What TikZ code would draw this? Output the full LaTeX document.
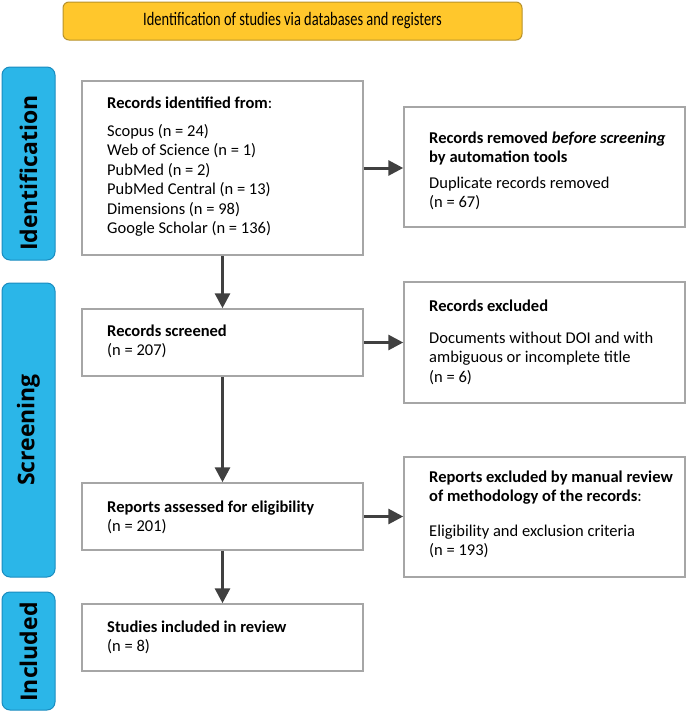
\documentclass[tikz,border=0pt]{standalone}
\usepackage{fontspec}
\setmainfont{Carlito}
\newfontfamily\sidefont{Open Sans}
\newfontfamily\titlefont[FakeStretch=0.76]{Carlito}
\usetikzlibrary{arrows.meta}
\definecolor{boxgray}{HTML}{A6A6A6}
\definecolor{arrowgray}{HTML}{404040}
\definecolor{titlefill}{HTML}{FFC72C}
\definecolor{titledraw}{HTML}{B8922A}
\definecolor{sidefill}{HTML}{2BB6E8}
\definecolor{sidedraw}{HTML}{1A8CC0}
\tikzset{
  flowbox/.style={draw=boxgray, line width=1.5pt, fill=white, inner sep=0pt, minimum width=281pt},
  sidebox/.style={draw=sidedraw, line width=1pt, fill=sidefill, rounded corners=8pt, inner sep=0pt, minimum width=53pt},
  sidelabel/.style={rotate=90, inner sep=0pt, font=\sidefont\bfseries\fontsize{23}{27}\selectfont},
  txt/.style={anchor=base west, inner sep=0pt, align=left, font=\fontsize{16.5}{19.5}\selectfont},
  flowarrow/.style={draw=arrowgray, line width=3pt, -{Triangle[length=15pt,width=15pt]}, shorten >=0pt}
}
\newcommand{\lines}[1]{\begin{tabular}[t]{@{}l@{}}#1\end{tabular}}
\begin{document}
\begin{tikzpicture}[x=1pt,y=-1pt]
\useasboundingbox (0,0) rectangle (686,712);
% title
\node[draw=titledraw, line width=1pt, fill=titlefill, rounded corners=6pt, minimum width=459pt, minimum height=38pt, inner sep=0pt,
  font=\titlefont\fontsize{19}{22}\selectfont] (title) at (292.5,21) {Identification of studies via databases and registers};
% side boxes
\node[sidebox, minimum height=193pt] (sid) at (28.5,163.5) {};
\node[sidelabel] (sidt) at (28.5,173) {Identification};
\node[sidebox, minimum height=294pt] (ssc) at (28.5,430) {};
\node[sidelabel] (ssct) at (28.5,430) {Screening};
\node[sidebox, minimum height=118pt] (sin) at (28.5,651) {};
\node[sidelabel] (sint) at (28.5,652) {Included};
% flow boxes
\node[flowbox, minimum height=174pt] (ident) at (222.5,168) {};
\node[flowbox, minimum height=120pt] (remov) at (544.5,167) {};
\node[flowbox, minimum height=67pt] (scr) at (222.5,342.5) {};
\node[flowbox, minimum height=121pt] (excl) at (544.5,342.5) {};
\node[flowbox, minimum height=67pt] (assess) at (222.5,516.5) {};
\node[flowbox, minimum height=120pt] (repexcl) at (544.5,517) {};
\node[flowbox, minimum height=67pt] (incl) at (222.5,637.5) {};
% texts
\node[txt] (identh) at (107,108) {\textbf{Records identified from}:};
\node[txt] (identl) at (107,136) {\lines{Scopus (n = 24)\\Web of Science (n = 1)\\PubMed (n = 2)\\PubMed Central (n = 13)\\Dimensions (n = 98)\\Google Scholar (n = 136)}};
\node[txt] (removh) at (429,143) {\lines{\textbf{Records removed \textit{before screening}}\\\textbf{by automation tools}}};
\node[txt] (removl) at (429,188) {\lines{Duplicate records removed\\(n = 67)}};
\node[txt] (scrt) at (107,336) {\lines{\textbf{Records screened}\\(n = 207)}};
\node[txt] (exclh) at (429,311) {\textbf{Records excluded}};
\node[txt] (excll) at (429,343) {\lines{Documents without DOI and with\\ambiguous or incomplete title\\(n = 6)}};
\node[txt] (assesst) at (107,512) {\lines{\textbf{Reports assessed for eligibility}\\(n = 201)}};
\node[txt] (repexclh) at (429,482) {\lines{\textbf{Reports excluded by manual review}\\\textbf{of methodology of the records}:}};
\node[txt] (repexcll) at (429,536) {\lines{Eligibility and exclusion criteria\\(n = 193)}};
\node[txt] (inclt) at (107,632) {\lines{\textbf{Studies included in review}\\(n = 8)}};
% arrows
\draw[flowarrow] (ident.south) -- (scr.north);
\draw[flowarrow] (scr.south) -- (assess.north);
\draw[flowarrow] (assess.south) -- (incl.north);
\draw[flowarrow] (ident.east) -- (remov.west |- ident.east);
\draw[flowarrow] (scr.east) -- (excl.west);
\draw[flowarrow] (assess.east) -- (repexcl.west |- assess.east);
\end{tikzpicture}
\end{document}
